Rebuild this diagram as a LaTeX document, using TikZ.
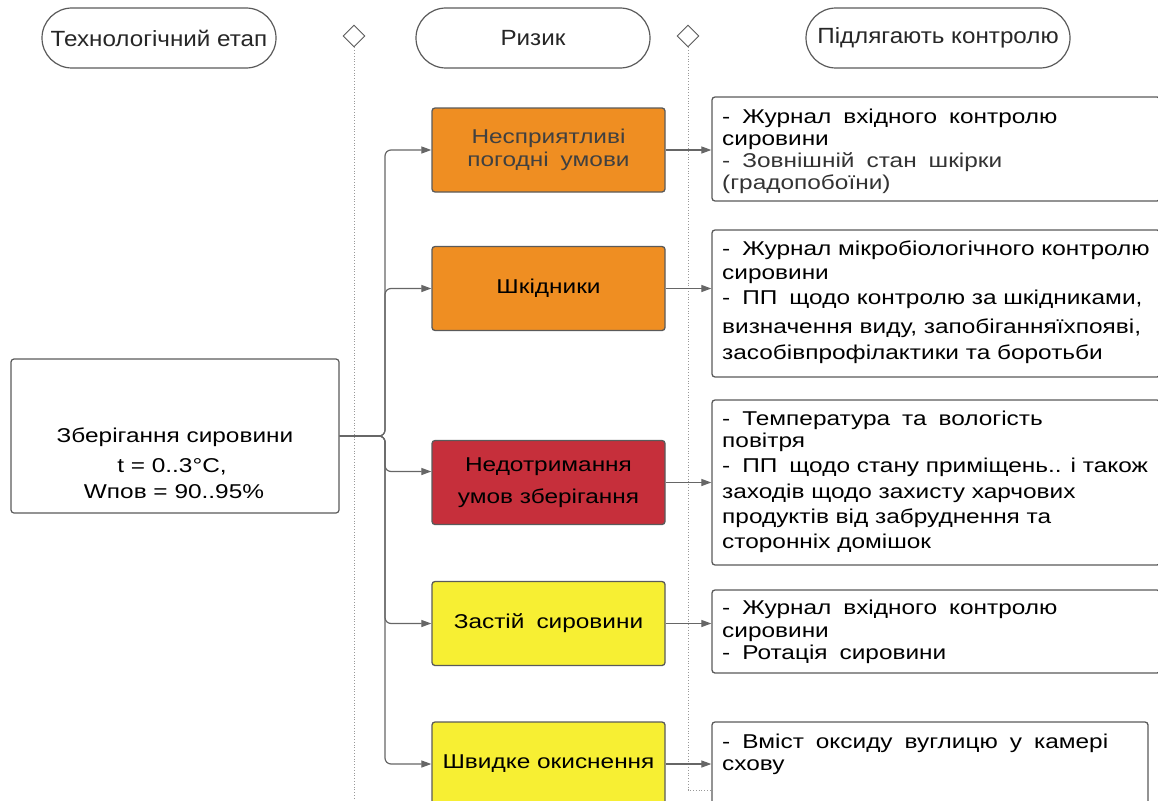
\documentclass[tikz,border=0pt]{standalone}
\usepackage{fontspec}
\setmainfont[FakeStretch=1.22]{Liberation Sans}
\newfontfamily\headfont[FakeStretch=1.1]{Liberation Sans}
\usetikzlibrary{arrows.meta,shapes.geometric,shapes.misc}

\definecolor{risko}{HTML}{EF8E22}
\definecolor{riskr}{HTML}{C62F3B}
\definecolor{risky}{HTML}{F7EF33}
\definecolor{edge}{HTML}{5A5A5A}
\definecolor{wire}{HTML}{666666}

\tikzset{
  header/.style={draw=edge, line width=1.2pt, rounded rectangle,
    minimum width=234pt, minimum height=60pt, inner sep=0pt,
    font=\headfont\fontsize{22}{24}\selectfont, text=black!85},
  lane/.style={draw=edge, line width=0.9pt, fill=white, minimum width=22pt,
    minimum height=22pt, inner sep=0pt, shape=diamond},
  guide/.style={draw=gray!80, dotted, line width=0.8pt},
  stage/.style={draw=edge, line width=1.2pt, rounded corners=3pt, fill=white,
    minimum width=328pt, minimum height=154pt, inner sep=0pt},
  stagetext/.style={inner sep=0pt, font=\fontsize{20}{24}\selectfont},
  riskbox/.style={draw=edge, line width=1.3pt, rounded corners=3pt,
    minimum width=233pt, minimum height=84pt, inner sep=0pt, align=center,
    font=\fontsize{20}{24}\selectfont},
  ctrlbox/.style={draw=edge, line width=1.3pt, rounded corners=3pt, fill=white,
    inner sep=0pt, minimum width=448pt},
  ctrltext/.style={anchor=north west, inner sep=0pt, align=left,
    font=\fontsize{20}{22}\selectfont},
  link/.style={draw=wire, line width=1.2pt, rounded corners=6pt,
    -{Triangle[length=10pt,width=7pt]}},
  feed/.style={draw=wire, line width=1.2pt,
    -{Triangle[length=10pt,width=7pt]}}
}

\newcommand{\gap}{\hspace{0.6em}}

\begin{document}
\begin{tikzpicture}[x=1pt,y=-1pt]
\useasboundingbox (0,0) rectangle (1158,800);
\clip (0,0) rectangle (1158,800);

% column headers and lane markers
\node[header] (h1) at (159,38) {Технологічний етап};
\node[header] (h2) at (533,38) {Ризик};
\node[header, minimum width=264pt] (h3) at (938,38) {Підлягають контролю};
\node[lane] (d1) at (354,36) {};
\node[lane] (d2) at (688,36) {};
\coordinate (g1) at (354,800);
\coordinate (g2) at (688,790);
\coordinate (g3) at (714,790);
\draw[guide] (d1.south) -- (g1);
\draw[guide] (d2.south) -- (g2) -- (g3);

% technological stage
\node[stage] (st) at (175,436) {};
\node[stagetext] (st1) at (175,437) {Зберігання сировини};
\node[stagetext] (st2) at (172,467) {t = 0..3°C,};
\node[stagetext] (st3) at (174,492) {Wпов = 90..95\%};

% risks
\node[riskbox, fill=risko, text=black!75] (r1) at (548.5,150)
  {Несприятливі\\[-1pt]погодні\gap умови};
\node[riskbox, fill=risko] (r2) at (548.5,288.5) {Шкідники};
\node[riskbox, fill=riskr] (r3) at (548.5,482.5)
  {Недотримання\\[8pt]умов зберігання};
\node[riskbox, fill=risky] (r4) at (548.5,623.5) {Застій\gap сировини};
\node[riskbox, fill=risky] (r5) at (548.5,764) {Швидке окиснення};

% control measures
\node[ctrlbox, minimum height=104pt] (c1) at (936,149) {};
\node[ctrlbox, minimum height=147pt] (c2) at (936,303.5) {};
\node[ctrlbox, minimum height=165pt] (c3) at (936,482.5) {};
\node[ctrlbox, minimum height=83pt] (c4) at (936,631.5) {};
\node[ctrlbox, minimum width=436pt, minimum height=100pt] (c5) at (930,772) {};

\node[ctrltext] (t1) at (722,109)
  {-\gap Журнал\gap вхідного\gap контролю\\
   сировини\\
   {\color{black!80}-\gap Зовнішній\gap стан\gap шкірки}\\
   {\color{black!80}(градопобоїни)}};
\node[ctrltext] (t2) at (722,241)
  {-\gap Журнал мікробіологічного контролю\\[2pt]
   сировини\\[3pt]
   -\gap ПП\gap щодо контролю за шкідниками,\\[7pt]
   визначення виду, запобіганняїхпояві,\\[4pt]
   засобівпрофілактики та боротьби};
\node[ctrltext] (t3) at (722,411)
  {-\gap Температура\gap та\gap вологість\\
   повітря\\[3pt]
   -\gap ПП\gap щодо стану приміщень.. і також\\[4pt]
   заходів щодо захисту харчових\\[3pt]
   продуктів від забруднення та\\[3pt]
   сторонніх домішок};
\node[ctrltext] (t4) at (722,600)
  {-\gap Журнал\gap вхідного\gap контролю\\[1pt]
   сировини\\[0pt]
   -\gap Ротація\gap сировини};
\node[ctrltext] (t5) at (722,734)
  {-\gap Вміст\gap оксиду\gap вуглицю\gap у\gap камері\\
   схову};

% connectors: stage to risks
\coordinate (fork) at (385,436);
\draw[link] (st.east) -- (fork) |- (r1.west);
\draw[link] (st.east) -- (fork) |- (r2.west);
\draw[link] (st.east) -- (fork) |- ([yshift=11pt]r3.west);
\draw[link] (st.east) -- (fork) |- (r4.west);
\draw[link] (st.east) -- (fork) |- (r5.west);
% connectors: risks to control measures
\draw[feed] (r1.east) -- (c1.west |- r1.east);
\draw[feed] (r2.east) -- (c2.west |- r2.east);
\draw[feed] (r3.east) -- (c3.west |- r3.east);
\draw[feed] (r4.east) -- (c4.west |- r4.east);
\draw[feed] (r5.east) -- (c5.west |- r5.east);
\end{tikzpicture}
\end{document}
